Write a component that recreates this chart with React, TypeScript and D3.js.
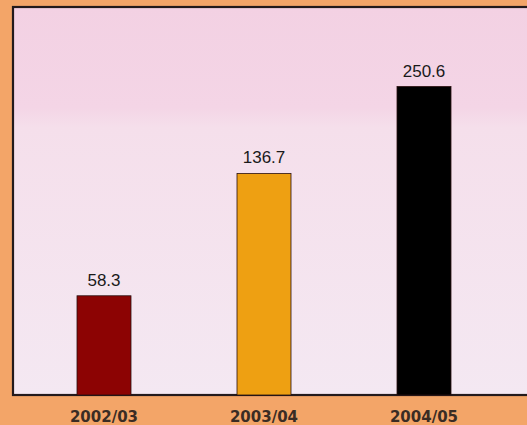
import React from "react";
import * as d3 from "d3";

// Harvest years and their values
const seasons = ["2002/03", "2003/04", "2004/05"];
const values = [58.3, 136.7, 250.6];
const barColors = ["#8c0303", "#eea012", "#000000"];
const valueLabels = ["58.3", "136.7", "250.6"];

const W = 527;
const H = 425;
const frame = { left: 13, top: 7, right: 540, bottom: 395 };

export default function App() {
  const x = d3
    .scaleBand<string>()
    .domain(seasons)
    .range([13, 515])
    .paddingInner(0.6625)
    .paddingOuter(0.4);

  // Logarithmic value axis, baseline at the bottom of the frame
  const y = d3.scaleLog().domain([29.2, 300]).range([frame.bottom, 60.7]);

  return (
    <svg
      width={W}
      height={H}
      style={{ position: "absolute", left: 0, top: 0 }}
      fontFamily="'Liberation Sans', Arial, sans-serif"
    >
      <defs>
        <linearGradient id="panel" x1="0" y1="0" x2="0" y2="1">
          <stop offset="0" stopColor="#f3d1e3" />
          <stop offset="0.26" stopColor="#f4d5e6" />
          <stop offset="0.31" stopColor="#f5dfeb" />
          <stop offset="1" stopColor="#f4e8f2" />
        </linearGradient>
      </defs>
      <rect x={0} y={0} width={W} height={H} fill="#f3a568" />
      <rect
        x={frame.left}
        y={frame.top}
        width={frame.right - frame.left}
        height={frame.bottom - frame.top}
        fill="url(#panel)"
        stroke="#231a1c"
        strokeWidth={2.2}
      />
      {seasons.map((s, i) => {
        const bx = x(s)!;
        const top = y(values[i]);
        return (
          <g key={s}>
            <rect
              x={bx}
              y={top}
              width={x.bandwidth()}
              height={frame.bottom - top}
              fill={barColors[i]}
              stroke="#2a1010"
              strokeWidth={0.8}
            />
            <text
              x={bx + x.bandwidth() / 2}
              y={top - 10}
              textAnchor="middle"
              fontSize={17}
              fill="#1a1a1a"
            >
              {valueLabels[i]}
            </text>
            <text
              x={bx + x.bandwidth() / 2}
              y={422}
              textAnchor="middle"
              fontSize={15}
              fontWeight="bold"
              fontFamily="'DejaVu Sans', sans-serif"
              fill="#3a2c24"
            >
              {s}
            </text>
          </g>
        );
      })}
    </svg>
  );
}
